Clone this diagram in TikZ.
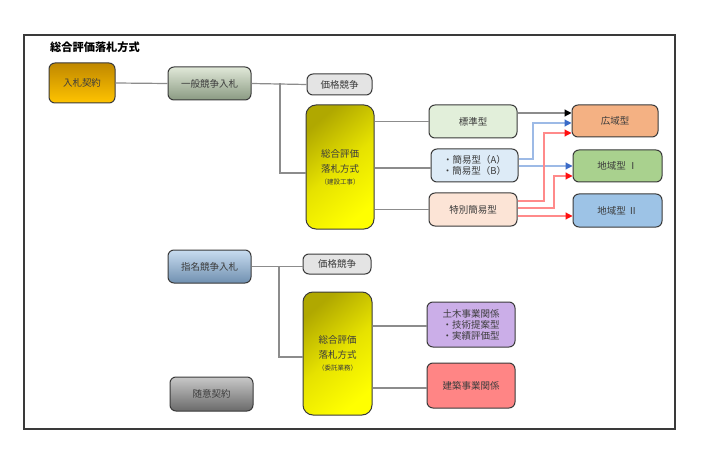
\documentclass[tikz,border=0pt]{standalone}
\usepackage{fontspec}
\newfontfamily\jp{Noto Sans CJK JP}
\usetikzlibrary{arrows.meta,calc}
\definecolor{txt}{HTML}{3C3C3C}
\definecolor{edge}{HTML}{3A3A3A}
\definecolor{conn}{HTML}{8C8C8C}
\definecolor{bluel}{HTML}{9DBAE6}
\definecolor{bluet}{HTML}{3A6BC8}
\definecolor{redl}{HTML}{FF8A8A}
\definecolor{redt}{HTML}{FF1010}
\definecolor{hyoc}{HTML}{E2EFDA}
\definecolor{kanic}{HTML}{DDEBF7}
\definecolor{tokuc}{HTML}{FCE4D6}
\definecolor{kouikic}{HTML}{F4B183}
\definecolor{chiikiac}{HTML}{A9D18E}
\definecolor{chiikibc}{HTML}{9DC3E6}
\definecolor{dobokuc}{HTML}{CBAEE8}
\definecolor{kenchikuc}{HTML}{FF8585}
\definecolor{kakakuc}{HTML}{E4E4E4}
\definecolor{kytop}{HTML}{C08800}
\definecolor{kybot}{HTML}{FFC400}
\definecolor{iptop}{HTML}{E0E8D8}
\definecolor{ipbot}{HTML}{8A9A82}
\definecolor{shtop}{HTML}{C8DCF0}
\definecolor{shbot}{HTML}{7090B0}
\definecolor{zutop}{HTML}{C8C8C8}
\definecolor{zubot}{HTML}{6A6A6A}
\definecolor{ytop}{HTML}{B0A800}
\definecolor{ymid}{HTML}{E6E200}
\definecolor{ybot}{HTML}{FFFF00}
\begin{document}
\begin{tikzpicture}[x=1pt,y=-1pt,
  box/.style={draw=edge,line width=1pt,rounded corners=6pt,text=txt,inner sep=0pt,
    font=\jp\fontsize{9.5}{11}\selectfont,align=center},
  link/.style={draw=conn,line width=1.2pt},
  garrow/.style={draw=conn,line width=1.2pt,-{Triangle[length=7pt,width=7pt,color=black]}},
  barrow/.style={draw=bluel,line width=1.2pt,-{Triangle[length=7pt,width=7pt,color=bluet]}},
  rarrow/.style={draw=redl,line width=1.2pt,-{Triangle[length=7pt,width=7pt,color=redt]}},
  sogostyle/.style={box,top color=ytop,bottom color=ybot,middle color=ymid,shading angle=40,rounded corners=10pt}
]
\useasboundingbox (0,0) rectangle (702,468);
\draw[draw=edge,line width=1.5pt] (24,35) rectangle (675,429);
\node[anchor=west,font=\jp\bfseries\fontsize{11.2}{13}\selectfont,text=black,inner sep=0pt] (title) at (50,47) {総合評価落札方式};

% top section
\node[box,minimum width=66pt,minimum height=40pt,top color=kytop,bottom color=kybot] (keiyaku) at (82,83) {入札契約};
\node[box,minimum width=83pt,minimum height=33pt,top color=iptop,bottom color=ipbot] (ippan) at (209.5,83.5) {一般競争入札};
\node[box,minimum width=65pt,minimum height=21pt,fill=kakakuc] (kakakua) at (339.5,84.5) {価格競争};
\node[sogostyle,minimum width=68pt,minimum height=124pt] (sogoa) at (340,167)
  {総合評価\\[4pt]落札方式\\[1pt]{\fontsize{6.5}{8}\selectfont（建設工事）}};
\node[box,minimum width=88pt,minimum height=33pt,fill=hyoc] (hyo) at (473,121.5) {標準型};
\node[box,minimum width=87pt,minimum height=33pt,fill=kanic,font=\jp\fontsize{9.5}{11.5}\selectfont] (kani) at (474.5,165.5) {・簡易型（A）\\・簡易型（B）};
\node[box,minimum width=88pt,minimum height=33pt,fill=tokuc] (toku) at (473,209.5) {特別簡易型};
\node[box,minimum width=86pt,minimum height=32pt,fill=kouikic] (kouiki) at (615,121) {広域型};
\node[box,minimum width=89pt,minimum height=32pt,fill=chiikiac] (chiikia) at (617.5,166) {地域型 Ⅰ};
\node[box,minimum width=89pt,minimum height=33pt,fill=chiikibc] (chiikib) at (617.5,210.5) {地域型 Ⅱ};

% bottom section
\node[box,minimum width=83pt,minimum height=33pt,top color=shtop,bottom color=shbot] (shimei) at (209.5,266.5) {指名競争入札};
\node[box,minimum width=68pt,minimum height=20pt,fill=kakakuc] (kakakub) at (337,264) {価格競争};
\node[sogostyle,minimum width=69pt,minimum height=123pt] (sogob) at (337.5,353.5)
  {総合評価\\[4pt]落札方式\\[1pt]{\fontsize{6.5}{8}\selectfont（委託業務）}};
\node[box,minimum width=88pt,minimum height=45pt,fill=dobokuc,font=\jp\fontsize{9.5}{11}\selectfont] (doboku) at (471,324.5) {土木事業関係\\・技術提案型\\・実績評価型};
\node[box,minimum width=88pt,minimum height=45pt,fill=kenchikuc] (kenchiku) at (471,385.5) {建築事業関係};
\node[box,minimum width=83pt,minimum height=34pt,top color=zutop,bottom color=zubot] (zuii) at (211.5,394) {随意契約};

% connectors top
\draw[link] (keiyaku.east) -- (ippan.west);
\draw[link] (ippan.east) -- (kakakua.west);
\coordinate (bra) at (280,83.5);
\draw[link] (bra) |- (sogoa.west |- 0,173);
\draw[link] (sogoa.east |- hyo.west) -- (hyo.west);
\draw[link] (sogoa.east |- 0,168) -- (kani.west |- 0,168);
\draw[link] (sogoa.east |- toku.west) -- (toku.west);

% arrows
\draw[garrow] (hyo.east |- 0,113) -- (kouiki.west |- 0,113);
\draw[barrow] (kani.east |- 0,159) -| (533,123) -- (kouiki.west |- 0,123);
\draw[barrow] (kani.east |- 0,166) -- (chiikia.west |- 0,166);
\draw[rarrow] (toku.east |- 0,201) -| (544,133) -- (kouiki.west |- 0,133);
\draw[rarrow] (toku.east |- 0,208) -| (554,176) -- (chiikia.west |- 0,176);
\draw[rarrow] (toku.east |- 0,216) -- (chiikib.west |- 0,216);

% connectors bottom
\draw[link] (shimei.east) -- (kakakub.west |- shimei.east);
\coordinate (brb) at (279,266.5);
\draw[link] (brb) |- (sogob.west |- 0,357);
\draw[link] (sogob.east |- 0,326) -- (doboku.west |- 0,326);
\draw[link] (sogob.east |- 0,388) -- (kenchiku.west |- 0,388);
\end{tikzpicture}
\end{document}
